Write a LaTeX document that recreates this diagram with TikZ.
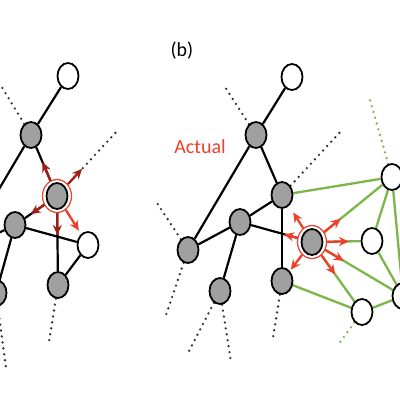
\documentclass[tikz,border=0pt]{standalone}
\usepackage{fontspec}
\newfontfamily\carl{Carlito}
\usetikzlibrary{arrows.meta,calc,shapes.geometric}
\pgfdeclarelayer{bg}
\pgfsetlayers{bg,main}
\definecolor{gfill}{RGB}{160,160,160}
\definecolor{grn}{RGB}{124,182,72}
\definecolor{rd}{RGB}{236,64,44}
\definecolor{drd}{RGB}{158,30,24}
\tikzset{
 gnode/.style={ellipse,draw=black,line width=1.8pt,fill=gfill,minimum width=21pt,minimum height=26pt,inner sep=0pt},
 wnode/.style={gnode,fill=white},
 ring/.style={ellipse,draw=rd,line width=1.2pt,fill=white,minimum width=29pt,minimum height=33pt,inner sep=0pt},
 edge/.style={line width=2.2pt,black},
 gedge/.style={line width=2.3pt,grn},
 dots/.style={line width=2.6pt,dash pattern=on 0pt off 6pt,line cap=round,black!80},
 gdots/.style={dots,grn},
 arr/.style={line width=2.3pt,-{Stealth[length=10pt,width=9pt]}},
 lab/.style={font=\carl\fontsize{20}{22}\selectfont,inner sep=0pt},
}
\begin{document}
\begin{tikzpicture}[x=1pt,y=-1pt]
\useasboundingbox (0,0) rectangle (400,400);
\clip (0,0) rectangle (400,400);
% left panel nodes
\node[wnode] (L1) at (68,76) {};
\node[gnode] (L2) at (31,135) {};
\node[ring] (L3r) at (57,196) {};
\node[gnode] (L3) at (57,196) {};
\node[gnode] (L4) at (15,225) {};
\node[wnode] (L5) at (88,245) {};
\node[gnode] (L6) at (58,285) {};
\node[gnode] (L7) at (-4,293) {};
\coordinate (Lx) at (-37,250);
\coordinate (L2d) at (0,84);
\coordinate (L3d) at (118,130);
\coordinate (L6d) at (49,342);
\coordinate (L7d) at (6,368);
% right panel nodes
\node[wnode] (R1) at (292,77) {};
\node[gnode] (R2) at (256,135) {};
\node[gnode] (R3) at (282,195) {};
\node[gnode] (R4) at (240,222) {};
\node[ring] (R5r) at (312,242) {};
\node[gnode] (R5) at (312,242) {};
\node[gnode] (R6) at (282,281) {};
\node[gnode] (R7) at (220,291) {};
\node[gnode] (Rx) at (188,250) {};
\node[wnode] (G1) at (392,177) {};
\node[wnode] (G2) at (372,241) {};
\node[wnode] (G3) at (403,296) {};
\node[wnode] (G4) at (362,312) {};
\coordinate (R2d) at (225,87);
\coordinate (R3d) at (342,130);
\coordinate (R6d) at (273,338);
\coordinate (R7da) at (187,355);
\coordinate (R7db) at (231,362);
\coordinate (Rxda) at (155,200);
\coordinate (Rxdb) at (165,318);
\coordinate (G1d) at (370,100);
\coordinate (G4d) at (338,345);
\begin{pgfonlayer}{bg}
\clip (0,0) rectangle (400,400);
% left edges
\draw[edge] (L1) -- (L2);
\draw[edge] (L2) -- (L3);
\draw[edge] (L2) -- (Lx);
\draw[edge] (L3) -- (L4);
\draw[edge] (L3) -- (L6);
\draw[edge] (L4) -- (L5);
\draw[edge] (L5) -- (L6);
\draw[edge] (L4) -- (L7);
\draw[edge] (L4) -- (Lx);
\draw[dots] (L2) -- (L2d);
\draw[dots] ($(L3)!38pt!(L3d)$) -- (L3d);
\draw[dots] (L6) -- (L6d);
\draw[dots] (L7) -- (L7d);
% right edges
\draw[edge] (R1) -- (R2);
\draw[edge] (R2) -- (R3);
\draw[edge] (R2) -- (Rx);
\draw[edge] (R3) -- (R4);
\draw[edge] (R3) -- (R6);
\draw[edge] (R4) -- (R5);
\draw[edge] (R4) -- (Rx);
\draw[edge] (R4) -- (R7);
\draw[dots] (R2) -- (R2d);
\draw[dots] (R3) -- (R3d);
\draw[dots] (R6) -- (R6d);
\draw[dots] (R7) -- (R7da);
\draw[dots] (R7) -- (R7db);
\draw[dots] (Rx) -- (Rxda);
\draw[dots] (Rx) -- (Rxdb);
\draw[gedge] (R3) -- (G1);
\draw[gedge] (R5) -- (G1);
\draw[gedge] (R5) -- (G2);
\draw[gedge] (R5) -- (G3);
\draw[gedge] (R5) -- (G4);
\draw[gedge] (R6) -- (G4);
\draw[gedge] (G1) -- (G2);
\draw[gedge] (G1) -- (G3);
\draw[gedge] (G2) -- (G3);
\draw[gedge] (G4) -- (G3);
\draw[gdots] (G1) -- (G1d);
\draw[gdots] (G4) -- (G4d);
\end{pgfonlayer}
% left arrows
\draw[arr,drd] (L3r) -- ($(L3)!37pt!(L2)$);
\draw[arr,drd] (L3r) -- ($(L3)!37pt!(L3d)$);
\draw[arr,drd] (L3r) -- ($(L3)!32pt!(L4)$);
\draw[arr,drd] (L3r) -- ($(L3)!39pt!(L6)$);
\draw[arr,rd] (L3r) -- ($(L3)!41pt!(L5)$);
% right arrows
\draw[arr,rd] (R5r) -- ($(R5)!35pt!(R3)$);
\draw[arr,rd] (R5r) -- ($(R5)!29pt!(R4)$);
\draw[arr,rd] (R5r) -- ($(R5)!35pt!(R6)$);
\draw[arr,rd] (R5r) -- ($(R5)!37pt!(G1)$);
\draw[arr,rd] (R5r) -- ($(R5)!37pt!(G2)$);
\draw[arr,rd] (R5r) -- ($(R5)!37pt!(G3)$);
\draw[arr,rd] (R5r) -- ($(R5)!40pt!(G4)$);
% labels
\node[lab] (tb) at (182,51) {(b)};
\node[lab,text=rd] (tact) at (200,147) {Actual};
\end{tikzpicture}
\end{document}
